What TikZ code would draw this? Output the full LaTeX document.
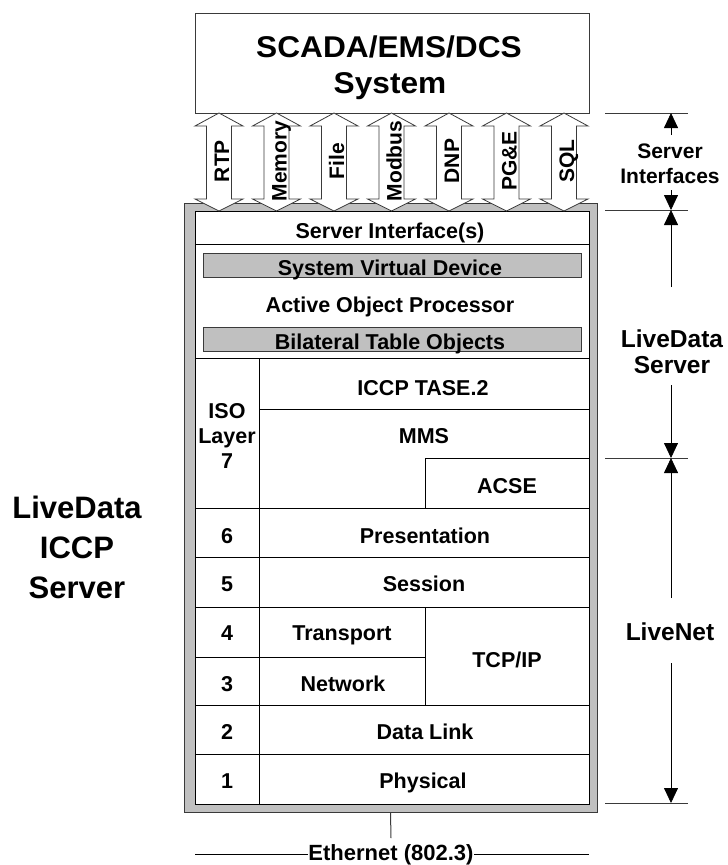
\documentclass[tikz,border=0pt]{standalone}
\usepackage{fontspec}
\setmainfont{Liberation Sans}
\usetikzlibrary{arrows.meta}
\definecolor{framegray}{HTML}{C0C0C0}
\definecolor{linegray}{HTML}{3A3A3A}
\tikzset{
  txt/.style={font=\bfseries\fontsize{21.5}{26}\selectfont, inner sep=0pt, anchor=base},
  arrlab/.style={font=\bfseries\fontsize{21}{25}\selectfont, inner sep=0pt, anchor=base, rotate=90},
  biglab/.style={font=\bfseries\fontsize{31}{36}\selectfont, inner sep=0pt, anchor=base},
  sidelab/.style={font=\bfseries\fontsize{24.5}{30}\selectfont, inner sep=0pt, anchor=base},
  smallside/.style={font=\bfseries\fontsize{21}{25}\selectfont, inner sep=0pt, anchor=base},
  bar/.style={draw=linegray, fill=framegray, line width=0.9pt, minimum width=378pt, minimum height=24pt, inner sep=0pt},
  rowline/.style={draw=black, line width=0.9pt},
  dimline/.style={draw=linegray, line width=0.8pt},
  dimarrow/.style={draw=black, line width=0.8pt, -{Triangle[length=15pt,width=14pt]}},
  blockarrow/.style={draw=linegray, fill=white, line width=0.8pt},
}
\begin{document}
\begin{tikzpicture}[x=1pt,y=-1pt]
\useasboundingbox (0,0) rectangle (728,865);

% SCADA box
\node[draw=linegray, line width=0.9pt, minimum width=394pt, minimum height=100pt, inner sep=0pt] (scada) at (392,63) {};
\node[txt, font=\bfseries\fontsize{30}{36}\selectfont] (scadaA) at (389,57) {\scalebox{1.055}[1]{SCADA/EMS/DCS}};
\node[txt, font=\bfseries\fontsize{30}{36}\selectfont] (scadaB) at (390,93) {\scalebox{1.055}[1]{System}};

% outer gray frame and inner box
\node[draw=linegray, fill=framegray, line width=0.9pt, minimum width=413pt, minimum height=609pt, inner sep=0pt] (frame) at (390.5,507.5) {};
\node[draw=black, fill=white, line width=0.9pt, minimum width=394pt, minimum height=593pt, inner sep=0pt] (inner) at (392,507.5) {};

% block arrows with interface labels
\foreach \cx/\lab [count=\i] in {219/RTP, 276.5/Memory, 334/File, 391.5/Modbus, 449/DNP, 506.5/PG\&E, 564/SQL} {
  \draw[blockarrow] (\cx,113) -- ++(24,13) -- ++(-11.5,0) -- ++(0,73) -- ++(11.5,0)
     -- (\cx,211) -- ++(-24,-12) -- ++(11.5,0) -- ++(0,-73) -- ++(-11.5,0) -- cycle;
  \node[arrlab] (if\i) at (\cx+10,161) {\lab};
}

% upper server part
\draw[rowline] (195,244) -- (589,244);
\node[txt] (srvif) at (390,238) {Server Interface(s)};
\node[bar] (svdbar) at (392,265) {};
\node[txt] (svd) at (390,275) {System Virtual Device};
\node[txt] (aop) at (390,312) {Active Object Processor};
\node[bar] (btobar) at (392,339) {};
\node[txt] (bto) at (390,349) {Bilateral Table Objects};

% protocol stack grid
\draw[rowline] (195,358) -- (589,358);
\draw[rowline] (259,358) -- (259,804);
\draw[rowline] (259,409) -- (589,409);
\draw[rowline] (425,458) -- (589,458);
\draw[rowline] (425,458) -- (425,508);
\draw[rowline] (195,508) -- (589,508);
\draw[rowline] (195,557) -- (589,557);
\draw[rowline] (195,607) -- (589,607);
\draw[rowline] (195,657) -- (425,657);
\draw[rowline] (425,607) -- (425,705);
\draw[rowline] (195,705) -- (589,705);
\draw[rowline] (195,754) -- (589,754);

% layer numbers
\node[txt] (isoA) at (227,418) {ISO};
\node[txt] (isoB) at (227,443) {Layer};
\node[txt] (isoC) at (227,468) {7};
\node[txt] (n6) at (227,543) {6};
\node[txt] (n5) at (227,591) {5};
\node[txt] (n4) at (227,640) {4};
\node[txt] (n3) at (227,691) {3};
\node[txt] (n2) at (227,739) {2};
\node[txt] (n1) at (227,788) {1};

% layer contents
\node[txt] (iccp) at (423,395) {ICCP TASE.2};
\node[txt] (mms) at (424,443) {MMS};
\node[txt] (acse) at (507,493) {ACSE};
\node[txt] (pres) at (425,543) {Presentation};
\node[txt] (sess) at (424,591) {Session};
\node[txt] (trans) at (342,640) {Transport};
\node[txt] (netw) at (343,691) {Network};
\node[txt] (tcpip) at (507,667) {TCP/IP};
\node[txt] (dlink) at (425,739) {Data Link};
\node[txt] (phys) at (423,788) {Physical};

% Ethernet
\coordinate (ethbot) at (391,838);
\draw[draw=linegray, line width=1pt] (frame.south) -- (ethbot);
\node[txt, font=\bfseries\fontsize{22}{26}\selectfont, inner sep=0.5pt] (eth) at (391,860) {Ethernet (802.3)};
\coordinate (ethL) at (195,854);
\coordinate (ethR) at (589,854);
\draw[rowline] (ethL) -- (ethL -| eth.west);
\draw[rowline] (eth.east |- ethR) -- (ethR);

% left label
\node[biglab] (ldA) at (77,518) {LiveData};
\node[biglab] (ldB) at (77,558) {ICCP};
\node[biglab] (ldC) at (77,598) {Server};

% right dimension ticks
\foreach \ty [count=\j] in {113,210,458,803} {
  \coordinate (tickL\j) at (605,\ty);
  \coordinate (tickR\j) at (688,\ty);
  \draw[dimline] (tickL\j) -- (tickR\j);
}
\coordinate (d1s) at (671,135);   \coordinate (d1e) at (671,113);
\coordinate (d2s) at (671,190);   \coordinate (d2e) at (671,210);
\coordinate (d3s) at (671,287);   \coordinate (d3e) at (671,210);
\coordinate (d4s) at (671,385);   \coordinate (d4e) at (671,458);
\coordinate (d5s) at (671,598);   \coordinate (d5e) at (671,458);
\coordinate (d6s) at (671,663);   \coordinate (d6e) at (671,803);
\foreach \k in {1,...,6} { \draw[dimarrow] (d\k s) -- (d\k e); }

\node[smallside] (siA) at (670,158) {Server};
\node[smallside] (siB) at (670,183) {Interfaces};
\node[sidelab] (lsA) at (672,347) {LiveData};
\node[sidelab] (lsB) at (672,373) {Server};
\node[sidelab] (lnet) at (670,640) {LiveNet};
\end{tikzpicture}
\end{document}
